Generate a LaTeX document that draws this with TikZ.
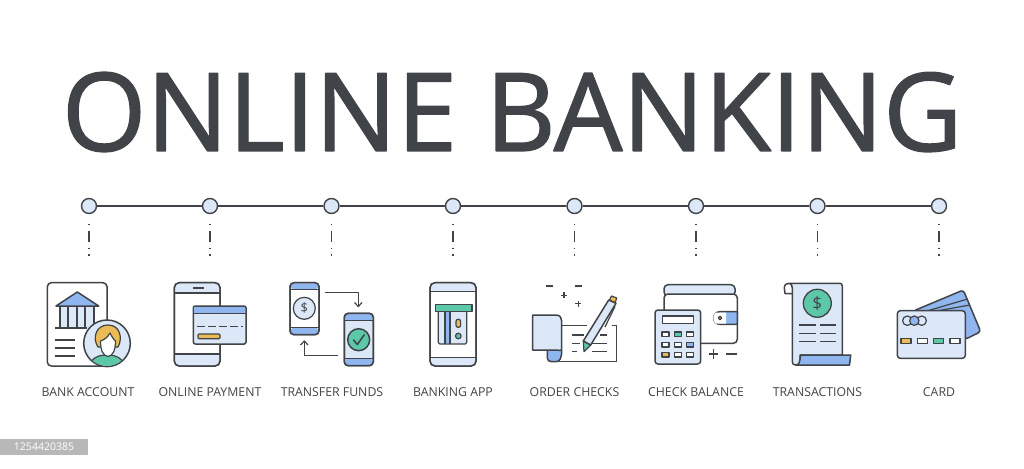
\documentclass[tikz,border=0pt]{standalone}
\usepackage{fontspec}
\setmainfont{Open Sans}
\newfontfamily\titlefont[FakeBold=1.3]{Open Sans}
\usepackage{tikz}
\definecolor{ink}{HTML}{404348}
\definecolor{paleblue}{HTML}{DCE8F8}
\definecolor{midblue}{HTML}{8FB6EE}
\definecolor{mint}{HTML}{5CC8A8}
\definecolor{amber}{HTML}{EBBB55}

\begin{document}
\begin{tikzpicture}[x=1pt,y=-1pt,line join=round,
    dot_node/.style={circle,draw=ink,fill=paleblue,line width=1.4pt,minimum size=15pt,inner sep=0},
    label_node/.style={text=ink,inner sep=0,font=\fontsize{12.3}{13}\selectfont},
    tail_line/.style={draw=ink,line width=1.5pt,shorten <=9.5pt,dash pattern=on 1.5pt off 5.5pt on 11.5pt off 5.5pt on 1.5pt off 5pt on 1.5pt off 9pt},
    icon_line/.style={draw=ink,line width=1.5pt},
    soft_line/.style={draw=ink,line width=1.2pt},
    ]
    \useasboundingbox (0,0) rectangle (1024,468);
    \node[text=ink,inner sep=0,font=\titlefont\fontsize{108.6}{109}\selectfont] (title) at (512,112) {ONLINE BANKING};

    % timeline
    \node[dot_node] (1) at (89,206) {};
    \node[dot_node] (2) at (210,206) {};
    \node[dot_node] (3) at (331.5,206) {};
    \node[dot_node] (4) at (453,206) {};
    \node[dot_node] (5) at (574.5,206) {};
    \node[dot_node] (6) at (696,206) {};
    \node[dot_node] (7) at (817.5,206) {};
    \node[dot_node] (8) at (939,206) {};
    \draw[icon_line] (1) -- (2) -- (3) -- (4) -- (5) -- (6) -- (7) -- (8);
    \coordinate (t1) at (89,260);
    \coordinate (t2) at (210,260);
    \coordinate (t3) at (331.5,260);
    \coordinate (t4) at (453,260);
    \coordinate (t5) at (574.5,260);
    \coordinate (t6) at (696,260);
    \coordinate (t7) at (817.5,260);
    \coordinate (t8) at (939,260);
    \draw[tail_line] (1) -- (t1);
    \draw[tail_line] (2) -- (t2);
    \draw[tail_line] (3) -- (t3);
    \draw[tail_line] (4) -- (t4);
    \draw[tail_line] (5) -- (t5);
    \draw[tail_line] (6) -- (t6);
    \draw[tail_line] (7) -- (t7);
    \draw[tail_line] (8) -- (t8);

    % labels
    \node[label_node] (bank) at (88,392) {BANK ACCOUNT};
    \node[label_node] (pay) at (210,392) {ONLINE PAYMENT};
    \node[label_node] (funds) at (332,392) {TRANSFER FUNDS};
    \node[label_node] (app) at (453,392) {BANKING APP};
    \node[label_node] (checks) at (574.5,392) {ORDER CHECKS};
    \node[label_node] (balance) at (696,392) {CHECK BALANCE};
    \node[label_node] (trans) at (817.5,392) {TRANSACTIONS};
    \node[label_node] (card) at (939,392) {CARD};

    % bank account
    \draw[icon_line,fill=white,rounded corners=4pt] (47.3,282.7) rectangle (107,366);
    \fill[paleblue] (59,306) rectangle (93,328);
    \draw[icon_line,fill=midblue] (56,306) -- (77.3,292) -- (98.7,306) -- cycle;
    \draw[soft_line] (60,306) -- (60,328) (68,306) -- (68,328) (77,306) -- (77,328) (85,306) -- (85,328) (94,306) -- (94,328);
    \draw[icon_line] (55,328) -- (87,328);
    \draw[soft_line] (55,340) -- (75,340) (55,348) -- (75,348) (55,356) -- (75,356);
    \draw[icon_line,fill=paleblue] (107,343.3) circle (23.3);
    \begin{scope}
      \clip (107,343.3) circle (22.6);
      \draw[soft_line,fill=mint] (90,368) .. controls (90,358) and (98,355) .. (107,355) .. controls (116,355) and (124,358) .. (124,368) -- cycle;
    \end{scope}
    \draw[soft_line,fill=amber] (98,347) .. controls (92,338) and (96,325) .. (108,325) .. controls (120,325) and (123,338) .. (118,347) -- cycle;
    \draw[soft_line,fill=white] (108,356.5) .. controls (103,356) and (100.5,350) .. (100.5,341) .. controls (104,340) and (108,337) .. (110,333) .. controls (112,337) and (114,340) .. (115.5,341) .. controls (115.5,350) and (113,356) .. (108,356.5) -- cycle;

    % online payment
    \draw[icon_line,fill=white,rounded corners=5pt] (174.3,282.7) rectangle (220,366);
    \fill[paleblue,rounded corners=4pt] (175,283.4) rectangle (219.3,293);
    \fill[paleblue,rounded corners=4pt] (175,354) rectangle (219.3,365.3);
    \draw[icon_line,rounded corners=5pt] (174.3,282.7) rectangle (220,366);
    \draw[icon_line] (174.3,293) -- (220,293) (174.3,354) -- (220,354);
    \draw[soft_line] (193,288) -- (204,288);
    \draw[icon_line,fill=paleblue,rounded corners=2pt] (193.3,306) rectangle (246,344);
    \fill[midblue] (194,307) rectangle (245.3,313);
    \draw[soft_line] (193.3,313.5) -- (246,313.5);
    \draw[soft_line,dash pattern=on 8pt off 3pt] (197,326.7) -- (243,326.7);
    \draw[soft_line,fill=amber,rounded corners=1pt] (198,334) rectangle (220,338.7);

    % transfer funds
    \draw[icon_line,fill=white,rounded corners=4pt] (290,282.7) rectangle (319,334.7);
    \fill[midblue,rounded corners=3pt] (290.7,283.4) rectangle (318.3,289.3);
    \fill[midblue,rounded corners=3pt] (290.7,327.7) rectangle (318.3,334);
    \draw[icon_line,rounded corners=4pt] (290,282.7) rectangle (319,334.7);
    \draw[icon_line] (290,289.3) -- (319,289.3) (290,327.7) -- (319,327.7);
    \node[circle,draw=ink,fill=paleblue,line width=1.2pt,minimum size=22pt,inner sep=0,text=ink,font=\fontsize{13}{13}\selectfont] (coin_a) at (304.3,308.3) {\$};
    \draw[icon_line,fill=paleblue,rounded corners=4pt] (344.3,313.3) rectangle (373.3,365.7);
    \fill[midblue,rounded corners=3pt] (345,314) rectangle (372.6,320.7);
    \fill[midblue,rounded corners=3pt] (345,358.7) rectangle (372.6,365);
    \draw[icon_line,rounded corners=4pt] (344.3,313.3) rectangle (373.3,365.7);
    \draw[icon_line] (344.3,320.7) -- (373.3,320.7) (344.3,358.7) -- (373.3,358.7);
    \draw[icon_line,fill=mint] (358.7,339.7) circle (11);
    \draw[icon_line] (353.3,339.7) -- (357.3,344.5) -- (364.5,334.5);
    \draw[soft_line] (325,292.7) -- (358.3,292.7) -- (358.3,306);
    \draw[soft_line] (354.5,302.5) -- (358.3,306.5) -- (362,302.5);
    \draw[soft_line] (338.3,355.3) -- (304.3,355.3) -- (304.3,341.5);
    \draw[soft_line] (300.5,345) -- (304.3,341) -- (308,345);

    % banking app
    \draw[icon_line,fill=white,rounded corners=5pt] (430,282.7) rectangle (476,366);
    \fill[paleblue,rounded corners=4pt] (430.7,283.4) rectangle (475.3,291.7);
    \fill[paleblue,rounded corners=4pt] (430.7,357.3) rectangle (475.3,365.3);
    \draw[icon_line,rounded corners=5pt] (430,282.7) rectangle (476,366);
    \draw[icon_line] (430,291.7) -- (476,291.7) (430,357.3) -- (476,357.3);
    \draw[soft_line,fill=paleblue,rounded corners=1.5pt] (438.3,309) -- (438.3,344) -- (466.7,344) -- (466.7,309);
    \draw[soft_line,fill=mint] (435.7,304.7) rectangle (472,311.3);
    \fill[midblue] (445,312) rectangle (450,343);
    \draw[soft_line] (445,311.3) -- (445,344) (450,311.3) -- (450,344);
    \draw[soft_line,fill=amber,rounded corners=2pt] (456,319.3) rectangle (460.6,327.3);
    \draw[soft_line,fill=mint] (458.3,336) circle (2.8);

    % order checks
    \draw[soft_line] (546,286) -- (552.5,286) (575,286) -- (581.5,286);
    \draw[soft_line] (561,295.3) -- (567,295.3) (564,292.3) -- (564,298.3);
    \draw[soft_line] (575.3,303.7) -- (581.3,303.7) (578.3,300.7) -- (578.3,306.7);
    \draw[icon_line] (561.7,325.7) -- (587,325.7);
    \draw[icon_line] (611.7,325.7) -- (616.7,325.7) -- (616.7,361.7) -- (552,361.7);
    \draw[icon_line,fill=midblue] (547.3,350) -- (547.3,358) .. controls (547.3,360.5) and (549,361.7) .. (552,361.7) -- (556,361.7) .. controls (560,361.7) and (561.7,358) .. (561.7,350);
    \draw[icon_line,fill=paleblue] (532.7,315) -- (556,315) .. controls (560,315) and (561.7,318) .. (561.7,321) -- (561.7,350) .. controls (561.7,351) and (559,350) .. (556,350) -- (532.7,350) -- cycle;
    \draw[soft_line] (571.7,335) -- (583.5,335) (600,335) -- (606.7,335) (571.7,343.3) -- (580,343.3) (590,343.3) -- (606.7,343.3) (571.7,351.7) -- (577,351.7) (591.7,351.7) -- (606.7,351.7);
    \draw[soft_line,fill=mint] (584,351.7) -- (583.3,341) -- (590.7,345) -- cycle;
    \draw[icon_line,fill=paleblue] (583.3,341) -- (608.7,300) -- (616,303.3) -- (590.7,345) -- cycle;
    \draw[soft_line,fill=amber] (611.5,296) -- (616.7,298) -- (615.2,302.7) -- (609.5,300) -- cycle;
    \draw[soft_line] (615,306.5) -- (605,327);

    % check balance
    \draw[icon_line,fill=paleblue,rounded corners=4pt] (664,284.7) rectangle (735,296);
    \draw[icon_line,fill=white,rounded corners=4pt] (664,294) rectangle (737.3,343.3);
    \draw[icon_line,fill=midblue] (737.3,311.7) -- (720,311.7) .. controls (711.5,311.7) and (711.5,324.3) .. (720,324.3) -- (737.3,324.3) -- cycle;
    \fill[white] (715.5,312.5) .. controls (712.5,315) and (712.5,321) .. (715.5,323.5) -- (726,323.5) -- (726,312.5) -- cycle;
    \draw[soft_line,fill=amber] (720,318) circle (1.8);
    \draw[icon_line,fill=paleblue,rounded corners=3pt] (655,310) rectangle (700.7,364);
    \draw[soft_line,fill=white] (662.3,316) rectangle (693.3,323.3);
    \draw[soft_line,fill=white] (662,332) rectangle (669,336.7);
    \draw[soft_line,fill=mint] (674.2,332) rectangle (681.2,336.7);
    \draw[soft_line,fill=white] (686.8,332) rectangle (693.8,336.7);
    \draw[soft_line,fill=white] (662,342.4) rectangle (669,347);
    \draw[soft_line,fill=white] (674.2,342.4) rectangle (681.2,347);
    \draw[soft_line,fill=midblue] (686.8,342.4) rectangle (693.8,347);
    \draw[soft_line,fill=amber] (662,352.4) rectangle (669,357);
    \draw[soft_line,fill=white] (674.2,352.4) rectangle (681.2,357);
    \draw[soft_line,fill=white] (686.8,352.4) rectangle (693.8,357);
    \draw[soft_line] (708.5,354) -- (718,354) (713.3,349.3) -- (713.3,358.7) (726,354) -- (736.7,354);

    % transactions
    \draw[icon_line] (792.3,293.5) -- (785,293.5) -- (784.3,288) .. controls (784.3,284.5) and (786.5,283.3) .. (789,283.3);
    \draw[icon_line,fill=paleblue] (792.3,362) .. controls (792.3,364) and (793.5,365) .. (796,365) -- (800,365) -- (800,355) -- (842.3,355) -- (842.3,286) .. controls (842.3,284) and (841,283.3) .. (840,283.3) -- (789,283.3) .. controls (791,283.3) and (792.3,285) .. (792.3,288) -- cycle;
    \draw[icon_line,fill=midblue] (796,365) .. controls (799,365) and (800,362) .. (800.5,355) -- (850.7,355) -- (849.5,365) -- cycle;
    \node[circle,draw=ink,fill=mint,line width=1.3pt,minimum size=28pt,inner sep=0,text=ink,font=\fontsize{17}{17}\selectfont] (coin_b) at (817.3,303.3) {\$};
    \draw[soft_line] (799.3,325) -- (815.7,325) (820,325) -- (835.7,325) (799.3,333.3) -- (815.7,333.3) (820,333.3) -- (835.7,333.3) (799.3,341.7) -- (815.7,341.7) (820,341.7) -- (835.7,341.7);

    % card
    \draw[icon_line,fill=midblue,rounded corners=3pt] (913.3,311) -- (963.3,290) -- (980.7,331.7) -- (965.3,339.3) -- (950,330) -- cycle;
    \draw[soft_line] (928,310.7) -- (966.7,299.3) (938,310.7) -- (970,305);
    \draw[icon_line,fill=paleblue,rounded corners=3pt] (897.3,310.7) rectangle (965.3,358.3);
    \draw[soft_line,fill=paleblue] (907.3,320.7) circle (4.7);
    \draw[soft_line,fill=paleblue] (921.7,320.7) circle (4.7);
    \draw[soft_line,fill=midblue] (914.3,320.7) circle (4.7);
    \draw[soft_line,fill=amber] (901,338.2) rectangle (911,343.2);
    \draw[soft_line,fill=white] (917.3,338.2) rectangle (927.3,343.2);
    \draw[soft_line,fill=mint] (933.7,338.2) rectangle (943.7,343.2);
    \draw[soft_line,fill=white] (950,338.2) rectangle (960,343.2);

    % id strip
    \node[fill=black!28,text=white,inner sep=0,minimum width=88pt,minimum height=16pt,font=\fontsize{10.5}{11}\selectfont] (stock) at (44,447) {1254420385};
\end{tikzpicture}
\end{document}
